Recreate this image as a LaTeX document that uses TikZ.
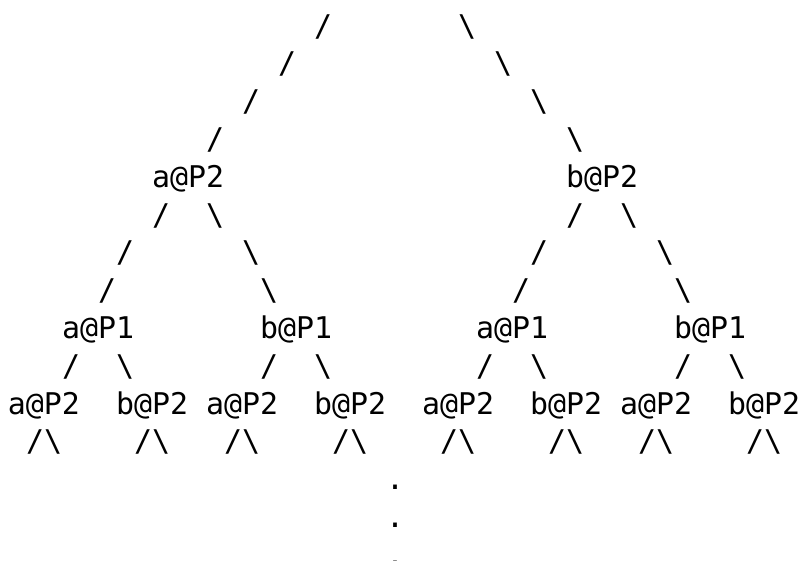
\documentclass[tikz,border=0pt]{standalone}
\usepackage{fontspec}
\setmonofont{DejaVu Sans Mono}
\tikzset{
  txt/.style={inner sep=0pt, outer sep=0pt, anchor=base west,
    font=\ttfamily\fontsize{29.9}{37.8}\selectfont, text=black},
  x=1pt, y=1pt
}
% column c, row r -> position
\newcommand\cpos[2]{({8+18*(#1)},{524.8-37.8*(#2)})}
\begin{document}
\begin{tikzpicture}
\useasboundingbox (0,0) rectangle (802,561);
\clip (0,0) rectangle (802,561);
% forward slashes
\foreach \c/\r [count=\i] in {17/0,15/1,13/2,11/3,8/5,31/5,6/6,29/6,5/7,28/7,3/9,14/9,26/9,37/9}
  \node[txt] (fs\i) at \cpos{\c}{\r} {/};
% backslashes
\foreach \c/\r [count=\i] in {25/0,27/1,29/2,31/3,11/5,34/5,13/6,36/6,14/7,37/7,6/9,17/9,29/9,40/9}
  \node[txt] (bs\i) at \cpos{\c}{\r} {\textbackslash};
% level 1
\node[txt] (a2top) at \cpos{8}{4} {a@P2};
\node[txt] (b2top) at \cpos{31}{4} {b@P2};
% level 2
\node[txt] (a1l) at \cpos{3}{8} {a@P1};
\node[txt] (b1l) at \cpos{14}{8} {b@P1};
\node[txt] (a1r) at \cpos{26}{8} {a@P1};
\node[txt] (b1r) at \cpos{37}{8} {b@P1};
% level 3
\foreach \c/\t [count=\i] in {0/a,6/b,11/a,17/b,23/a,29/b,34/a,40/b}
  \node[txt] (leaf\i) at \cpos{\c}{10} {\t @P2};
% forks
\foreach \c [count=\i] in {1,7,12,18,24,30,35,41}
  \node[txt] (fork\i) at \cpos{\c}{11} {/\textbackslash};
% dots
\foreach \r [count=\i] in {12,13,14}
  \node[txt] (dot\i) at \cpos{21}{\r} {.};
\end{tikzpicture}
\end{document}
